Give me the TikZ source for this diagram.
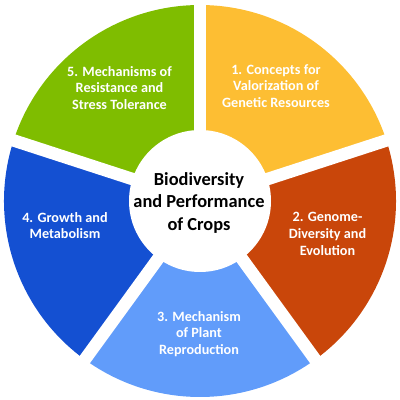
\documentclass[tikz,border=0pt]{standalone}
\usepackage{fontspec}
\setmainfont{Carlito}

\definecolor{segyellow}{HTML}{FDBE33}
\definecolor{segorange}{HTML}{C9460A}
\definecolor{seglight}{HTML}{619CFA}
\definecolor{segblue}{HTML}{1450D2}
\definecolor{seggreen}{HTML}{7FBD00}

\tikzset{
        seglabel/.style={text=white, align=center, font=\bfseries\fontsize{14.2}{16.7}\selectfont},
        gap/.style={white, line width=12.5pt}
}

\begin{document}
\begin{tikzpicture}[x=1pt, y=1pt]
        \useasboundingbox (0,0) rectangle (400,400);
        \coordinate (c) at (200,199);

        \fill[segyellow] (c) -- ++(90:196) arc[start angle=90, end angle=18, radius=196] -- cycle;
        \fill[segorange] (c) -- ++(18:196) arc[start angle=18, end angle=-54, radius=196] -- cycle;
        \fill[seglight] (c) -- ++(-54:196) arc[start angle=-54, end angle=-126, radius=196] -- cycle;
        \fill[segblue] (c) -- ++(-126:196) arc[start angle=-126, end angle=-198, radius=196] -- cycle;
        \fill[seggreen] (c) -- ++(162:196) arc[start angle=162, end angle=90, radius=196] -- cycle;

        \draw[gap] (c) -- ++(90:200);
        \draw[gap] (c) -- ++(18:200);
        \draw[gap] (c) -- ++(-54:200);
        \draw[gap] (c) -- ++(-126:200);
        \draw[gap] (c) -- ++(162:200);

        \fill[white] (c) circle (71);
        \node[align=center, font=\bfseries\fontsize{18.4}{22.5}\selectfont] (hub) at (199,197.5) {Biodiversity\\and Performance\\of Crops};

        \node[seglabel] (concepts) at (276,314) {1. Concepts for\\Valorization of\\Genetic Resources};
        \node[seglabel] (genome) at (327.5,166) {2. Genome-\\Diversity and\\Evolution};
        \node[seglabel] (reproduction) at (199,66) {3. Mechanism\\of Plant\\Reproduction};
        \node[seglabel] (growth) at (65,174.5) {4. Growth and\\Metabolism};
        \node[seglabel] (resistance) at (119.5,312) {5. Mechanisms of\\Resistance and\\Stress Tolerance};
\end{tikzpicture}
\end{document}
